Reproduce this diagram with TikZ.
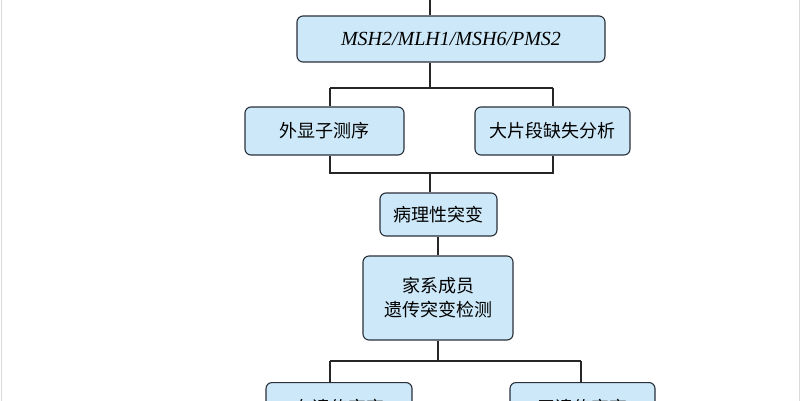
\documentclass[tikz,border=0pt]{standalone}
\usepackage{fontspec}
\setmainfont{Liberation Serif}
\newfontfamily\cjk{Noto Sans CJK SC}
\definecolor{boxfill}{RGB}{205,232,248}
\definecolor{boxdraw}{RGB}{40,48,58}
\begin{document}
\begin{tikzpicture}[x=1pt,y=-1pt,
 bx/.style={draw=boxdraw,line width=1.1pt,fill=boxfill,rounded corners=6pt,font=\cjk\fontsize{18}{24}\selectfont,inner sep=0pt,align=center},
 ln/.style={draw=black!85,line width=1.1pt}]
\useasboundingbox (0,0) rectangle (800,400);
\clip (0,0) rectangle (800,400);
\fill[white] (0,0) rectangle (800,400);
\draw[black!15,line width=1pt] (1,-2) -- (1,402) (799,-2) -- (799,402);
\node[bx,minimum width=308pt,minimum height=46pt,font=\fontsize{20}{22}\selectfont\itshape] (a) at (451,39) {MSH2/MLH1/MSH6/PMS2};
\node[bx,minimum width=159pt,minimum height=48pt] (b) at (324.5,131) {外显子测序};
\node[bx,minimum width=155pt,minimum height=48pt] (c) at (552.5,131) {大片段缺失分析};
\node[bx,minimum width=117pt,minimum height=43pt] (d) at (438.5,214.5) {病理性突变};
\node[bx,minimum width=150pt,minimum height=84pt] (e) at (438,298) {家系成员\\遗传突变检测};
\node[bx,minimum width=146pt,minimum height=60pt,anchor=north] (f) at (339,382) {\raisebox{12pt}{有遗传突变}};
\node[bx,minimum width=145pt,minimum height=60pt,anchor=north] (g) at (582.5,382) {\raisebox{12pt}{无遗传突变}};
\coordinate (top) at (430,0);
\draw[ln] (top) -- (a.north -| top);
\draw[ln] (a.south -| top) -- (430,88);
\draw[ln] (330,88) -- (553,88);
\draw[ln] (330,88) -- (b.north -| 330,0);
\draw[ln] (553,88) -- (c.north -| 553,0);
\draw[ln] (b.south -| 330,0) -- (330,173) -- (553,173) -- (c.south -| 553,0);
\draw[ln] (430,173) -- (d.north -| 430,0);
\draw[ln] (d.south -| 438,0) -- (e.north -| 438,0);
\draw[ln] (e.south -| 438,0) -- (438,361);
\draw[ln] (330,361) -- (581,361);
\draw[ln] (330,361) -- (f.north -| 330,0);
\draw[ln] (581,361) -- (g.north -| 581,0);
\end{tikzpicture}
\end{document}
